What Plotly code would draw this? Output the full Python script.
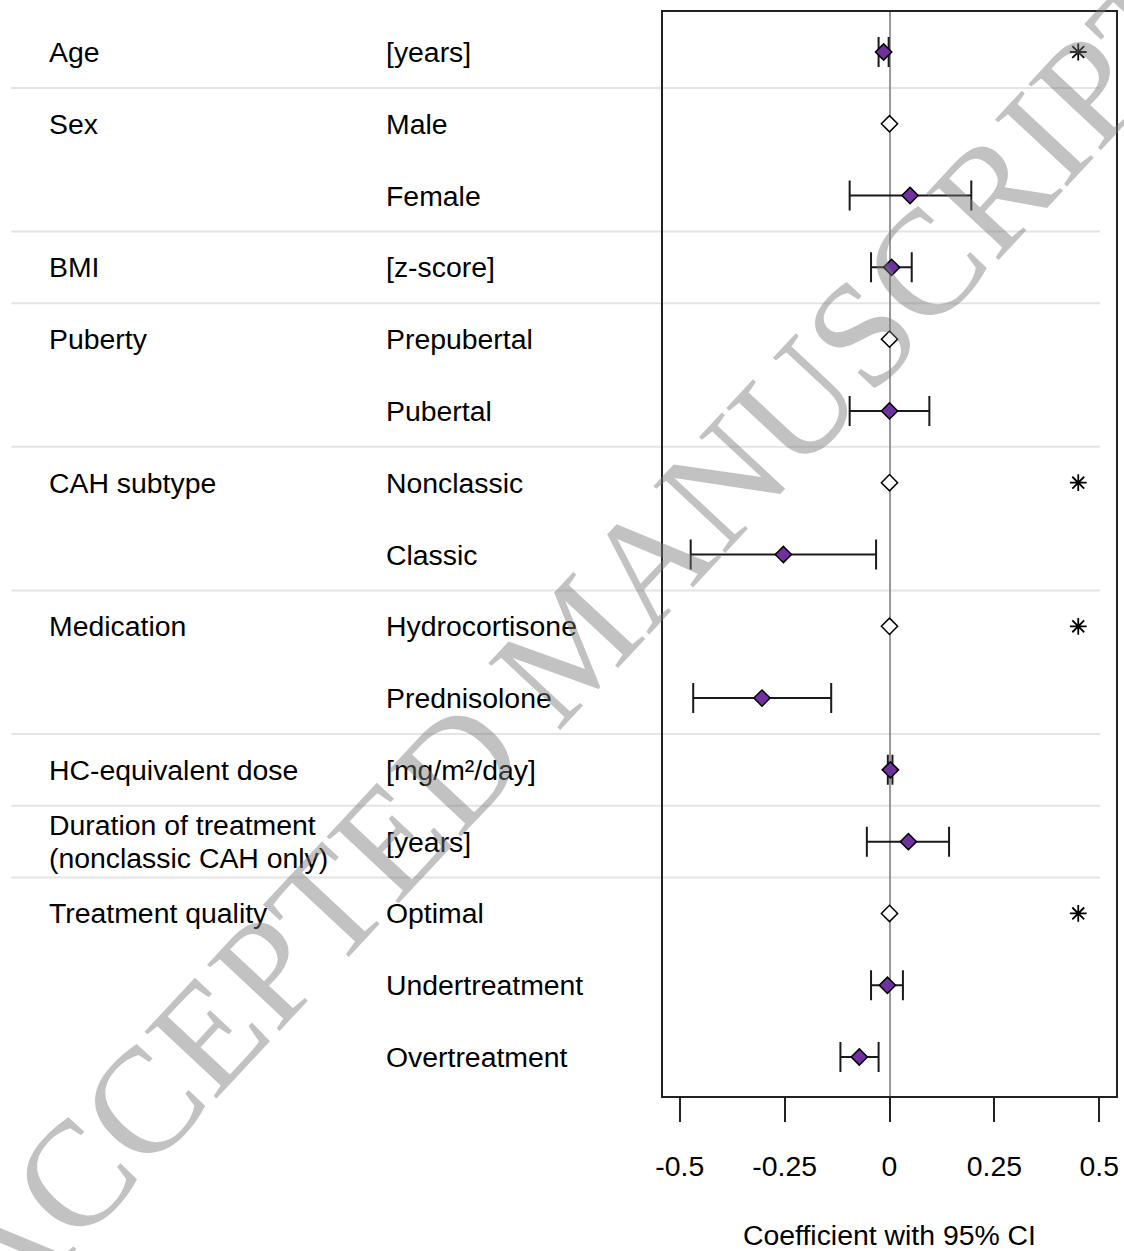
import plotly.graph_objects as go

# ---- data ----
groups = ["Age", "Sex", "", "BMI", "Puberty", "", "CAH subtype", "", "Medication", "",
          "HC-equivalent dose", "Duration of treatment<br>(nonclassic CAH only)", "Treatment quality", "", ""]
levels = ["[years]", "Male", "Female", "[z-score]", "Prepubertal", "Pubertal", "Nonclassic", "Classic",
          "Hydrocortisone", "Prednisolone", "[mg/m²/day]", "[years]", "Optimal", "Undertreatment", "Overtreatment"]
is_ref = [False, True, False, False, True, False, True, False, True, False, False, False, True, False, False]
estimate = [-0.014, 0.0, 0.049, 0.005, 0.0, 0.000, 0.0, -0.253, 0.0, -0.304, 0.002, 0.045, 0.0, -0.005, -0.072]
ci_low = [-0.026, None, -0.095, -0.044, None, -0.095, None, -0.474, None, -0.468, -0.004, -0.054, None, -0.044, -0.117]
ci_high = [-0.002, None, 0.195, 0.053, None, 0.095, None, -0.032, None, -0.139, 0.007, 0.142, None, 0.032, -0.026]
significant = [True, False, False, False, False, False, True, False, True, False, False, False, True, False, False]
group_breaks = [1.5, 3.5, 4.5, 6.5, 8.5, 10.5, 11.5, 12.5]
tick_vals = [-0.5, -0.25, 0, 0.25, 0.5]
tick_text = ["-0.5", "-0.25", "0", "0.25", "0.5"]
x_title = "Coefficient with 95% CI"
watermark = "ACCEPTED MANUSCRIPT"

W, H = 1124, 1251
ML, MR, MT, MB = 663, 5, 12, 155
PW = W - ML - MR
PH = H - MT - MB
FONT = "Liberation Sans, Arial, sans-serif"
FS = 28.4

rows = list(range(1, len(levels) + 1))

fig = go.Figure()

# estimates with CI
ex, ey, ep, em = [], [], [], []
for r, e, lo, hi, ref in zip(rows, estimate, ci_low, ci_high, is_ref):
    if not ref:
        ex.append(e); ey.append(r); ep.append(hi - e); em.append(e - lo)
fig.add_trace(go.Scatter(
    x=ex, y=ey, mode="markers",
    marker=dict(symbol="diamond", size=12.5, color="#7030A0", line=dict(color="black", width=1.5)),
    error_x=dict(type="data", symmetric=False, array=ep, arrayminus=em,
                 color="#1a1a1a", thickness=2, width=15),
    showlegend=False, hoverinfo="skip"))

# reference categories
fig.add_trace(go.Scatter(
    x=[e for e, ref in zip(estimate, is_ref) if ref],
    y=[r for r, ref in zip(rows, is_ref) if ref],
    mode="markers",
    marker=dict(symbol="diamond", size=12.5, color="white", line=dict(color="black", width=1.5)),
    showlegend=False, hoverinfo="skip"))

# significance stars
fig.add_trace(go.Scatter(
    x=[0.45 for s in significant if s],
    y=[r for r, s in zip(rows, significant) if s],
    mode="markers",
    marker=dict(symbol="asterisk-open", size=14, color="black", line=dict(color="black", width=1.8)),
    showlegend=False, hoverinfo="skip"))

# separators
for b in group_breaks:
    fig.add_shape(type="line", xref="paper", yref="y",
                  x0=(7 - ML) / PW, x1=(1103 - ML) / PW, y0=b, y1=b,
                  line=dict(color="#e4e4e4", width=2), layer="below")

# left labels
def px_to_paper_x(px):
    return (px - ML) / PW

row_step_px = (1057 - 52) / 14.0
for r, g, lv in zip(rows, groups, levels):
    if g:
        lines = g.split("<br>")
        n = len(lines)
        for i, ln in enumerate(lines):
            off = (i - (n - 1) / 2) * 33.0 / row_step_px
            fig.add_annotation(x=px_to_paper_x(43), y=r + off, xref="paper", yref="y",
                               text=ln, showarrow=False, xanchor="left", yanchor="middle",
                               font=dict(family=FONT, size=FS, color="black"))
    fig.add_annotation(x=px_to_paper_x(382), y=r, xref="paper", yref="y",
                       text=lv, showarrow=False, xanchor="left", yanchor="middle",
                       font=dict(family=FONT, size=FS, color="black"))

# axis title
fig.add_annotation(x=0, y=-(1235 - (MT + PH)) / PH, xref="x", yref="paper",
                   text=x_title, showarrow=False, xanchor="center", yanchor="middle",
                   font=dict(family=FONT, size=FS, color="black"))

# watermark
fig.add_annotation(x=(572 - ML) / PW, y=1 - (642 - MT) / PH, xref="paper", yref="paper",
                   text=watermark, showarrow=False, textangle=-47,
                   xanchor="center", yanchor="middle",
                   font=dict(family="Liberation Serif, Times New Roman, serif", size=150,
                             color="rgba(120,120,120,0.45)"))

fig.update_layout(
    width=W, height=H,
    margin=dict(l=ML, r=MR, t=MT, b=MB, pad=0),
    plot_bgcolor="white", paper_bgcolor="white",
    font=dict(family=FONT, size=FS, color="black"),
    xaxis=dict(range=[-0.54, 0.54], tickvals=tick_vals, ticktext=tick_text,
               ticks="outside", ticklen=24, tickwidth=1.5, tickcolor="#222",
               showgrid=False, zeroline=True, zerolinecolor="#999999", zerolinewidth=1.5,
               showline=True, mirror=True, linecolor="#222", linewidth=1.5,
               ticklabelstandoff=20, tickfont=dict(family=FONT, size=FS, color="black")),
    yaxis=dict(range=[15.543, 0.443], showticklabels=False, ticks="", showgrid=False,
               zeroline=False, showline=True, mirror=True, linecolor="#222", linewidth=1.5),
)

fig.write_html("out.html", config={"displayModeBar": False},
               post_script="document.body.style.margin='0';document.body.style.overflow='hidden';")
